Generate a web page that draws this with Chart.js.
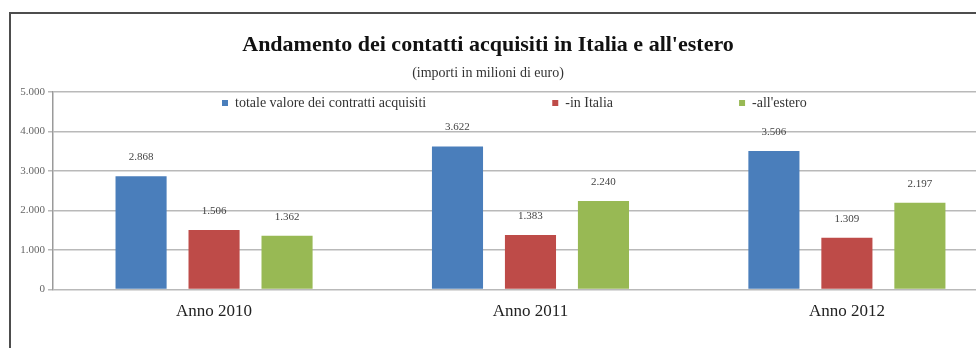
<!DOCTYPE html>
<html><head><meta charset="utf-8">
<script src="https://cdn.jsdelivr.net/npm/chart.js@4"></script>
<style>
html,body{margin:0;padding:0;background:#fff;width:976px;height:348px;overflow:hidden;}
#frame{position:absolute;left:9px;top:12px;width:990px;height:360px;border-top:2px solid #4d4d4d;border-left:2px solid #4d4d4d;}
#wrap{position:absolute;left:0;top:0;width:976px;height:348px;}
</style></head><body>
<div id="frame"></div>
<div id="wrap"><canvas id="c" width="976" height="348"></canvas></div>
<script>
// ---- data ----
const categories = ['Anno 2010', 'Anno 2011', 'Anno 2012'];
const seriesNames = ['totale valore dei contratti acquisiti', '-in Italia', "-all'estero"];
const totale = [2868, 3622, 3506];
const italia = [1506, 1383, 1309];
const estero = [1362, 2240, 2197];
const yTicks = [0, 1000, 2000, 3000, 4000, 5000];
const titleText = "Andamento dei contatti acquisiti in Italia e all'estero";
const subtitleText = '(importi in milioni di euro)';

// ---- styles ----
const FONT = '"Liberation Serif", "DejaVu Serif", serif';
const colors = ['#4a7ebb', '#be4b48', '#98b954'];
const LEGEND_GAP = 126;

const fmt = v => String(v).replace(/\B(?=(\d{3})+(?!\d))/g, '.');

const seriesValues = [totale, italia, estero];
const datasets = seriesValues.map((vals, s) => ({
  label: seriesNames[s],
  data: vals.map((v, i) => ({ x: i, y: v })),
  backgroundColor: colors[s],
  borderWidth: 0,
  barPercentage: 0.70,
  categoryPercentage: 0.692
}));

const legendInPlot = {
  id: 'legendInPlot',
  afterLayout(chart) {
    const lg = chart.legend;
    if (!lg || !lg.lineWidths) return;
    const W = lg.right - lg.left;
    const L = (2 * 222 - LEGEND_GAP - W + lg.lineWidths[0]) / 2;
    lg.left = L; lg.right = L + W;
    const itemTop = chart.chartArea.top + 4;
    lg.top = itemTop - LEGEND_GAP;
    lg.bottom = itemTop + 22;
    lg.height = lg.bottom - lg.top;
  }
};

const valueLabels = {
  id: 'valueLabels',
  afterDatasetsDraw(chart) {
    const ctx = chart.ctx;
    ctx.save();
    ctx.font = '11px ' + FONT;
    ctx.fillStyle = '#444';
    ctx.textAlign = 'center';
    ctx.textBaseline = 'middle';
    chart.data.datasets.forEach((ds, i) => {
      chart.getDatasetMeta(i).data.forEach((bar, j) => {
        ctx.fillText(fmt(ds.data[j].y), bar.x, bar.y - 19);
      });
    });
    ctx.restore();
  }
};

new Chart(document.getElementById('c'), {
  type: 'bar',
  data: { datasets },
  plugins: [legendInPlot, valueLabels],
  options: {
    responsive: false,
    animation: false,
    devicePixelRatio: 1,
    layout: { padding: { left: 0, right: 0, top: 0, bottom: 14 } },
    plugins: {
      title: {
        display: true, text: titleText, color: '#111',
        font: { family: FONT, size: 22, weight: 'bold' },
        padding: { top: 32, bottom: 2 }
      },
      subtitle: {
        display: true, text: subtitleText, color: '#333',
        font: { family: FONT, size: 14 },
        padding: { top: 4.2, bottom: 9.6 }
      },
      legend: {
        display: true, position: 'top', maxHeight: 1,
        labels: {
          boxWidth: 6, boxHeight: 6, padding: LEGEND_GAP,
          color: '#333', font: { family: FONT, size: 14 }
        }
      },
      tooltip: { enabled: false }
    },
    scales: {
      x: {
        type: 'linear', min: -0.509, max: 2.408, offset: false,
        grid: { display: false, drawTicks: false },
        border: { display: false },
        afterBuildTicks: s => { s.ticks = categories.map((_, i) => ({ value: i })); },
        ticks: {
          callback: v => categories[v], padding: 12, autoSkip: false, maxRotation: 0,
          color: '#222', font: { family: FONT, size: 17 }
        }
      },
      y: {
        min: 0, max: 5000,
        afterBuildTicks: s => { s.ticks = yTicks.map(v => ({ value: v })); },
        afterFit: s => { s.width = 53; },
        grid: { color: '#b9b9b9', lineWidth: 1.5, tickLength: 5 },
        border: { color: '#9a9a9a', width: 1.5 },
        ticks: { padding: 3, color: '#666', font: { family: FONT, size: 11 }, callback: v => fmt(v) }
      }
    }
  }
});
</script>
</body></html>
